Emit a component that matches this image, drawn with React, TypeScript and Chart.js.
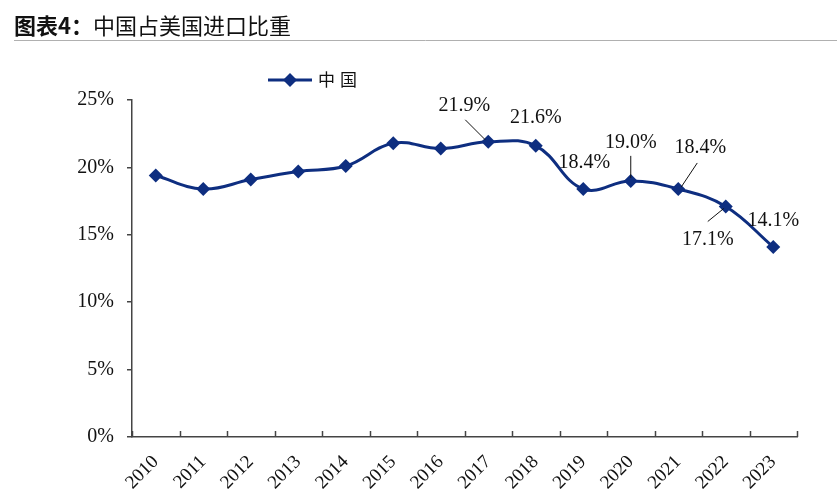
import React, { useEffect, useRef } from "react";
import { Chart, registerables } from "chart.js";

Chart.register(...registerables);

const years = ["2010", "2011", "2012", "2013", "2014", "2015", "2016", "2017", "2018", "2019", "2020", "2021", "2022", "2023"];
const chinaShare = [19.4, 18.4, 19.1, 19.7, 20.1, 21.8, 21.4, 21.9, 21.6, 18.4, 19.0, 18.4, 17.1, 14.1];
const yTicks = [0, 5, 10, 15, 20, 25];
const seriesName = "中国";
const titleText = "图表4：中国占美国进口比重";

const NAVY = "#0E2E80";
const SERIF = "'Liberation Serif', 'Times New Roman', serif";

// label placement: [index, dx, dy, leader?[x1,y1,x2,y2 relative to point]]
const labelPlacements: Array<[number, number, number, number[] | null]> = [
  [7, -24, -36, [-23, -22, -3, -2]],
  [8, 0, -28, null],
  [9, 1, -26, null],
  [10, 0, -38, [0, -25, 0, -3]],
  [11, 22, -41, [19, -26, 3, -2]],
  [12, -18, 33, [-18, 15, -2, 2]],
  [13, 0, -26, null],
];

const decorPlugin = {
  id: "decor",
  afterDraw(chart: any) {
    const ctx = chart.ctx;
    const xs = chart.scales.x;
    const area = chart.chartArea;
    ctx.save();
    // title
    ctx.fillStyle = "#111";
    ctx.textBaseline = "middle";
    ctx.textAlign = "left";
    ctx.font = `bold 22px 'Noto Sans CJK SC', sans-serif`;
    const head = "图表4：";
    ctx.fillText(head, 14, 26);
    const w = ctx.measureText(head).width;
    ctx.font = `22px 'Noto Sans CJK SC', sans-serif`;
    ctx.fillText(titleText.slice(head.length), 14 + w, 26);
    ctx.strokeStyle = "#b0b0b0";
    ctx.lineWidth = 1;
    ctx.beginPath();
    ctx.moveTo(14, 40.5);
    ctx.lineTo(837, 40.5);
    ctx.stroke();

    // legend
    ctx.strokeStyle = NAVY;
    ctx.lineWidth = 3;
    ctx.beginPath();
    ctx.moveTo(268, 80);
    ctx.lineTo(312, 80);
    ctx.stroke();
    ctx.fillStyle = NAVY;
    ctx.beginPath();
    ctx.moveTo(290, 73);
    ctx.lineTo(297, 80);
    ctx.lineTo(290, 87);
    ctx.lineTo(283, 80);
    ctx.closePath();
    ctx.fill();
    ctx.fillStyle = "#111";
    ctx.font = `17px 'Noto Sans CJK SC', sans-serif`;
    ctx.textAlign = "left";
    const chars = seriesName.split("");
    chars.forEach((c, i) => ctx.fillText(c, 318 + i * 22, 80));

    // x ticks (inside, between categories)
    ctx.strokeStyle = "#444";
    ctx.lineWidth = 1.5;
    for (let i = 0; i <= years.length; i++) {
      const px = Math.round(xs.getPixelForValue(i - 0.5)) + 0.5;
      ctx.beginPath();
      ctx.moveTo(px, area.bottom);
      ctx.lineTo(px, area.bottom - 6);
      ctx.stroke();
    }

    // data labels
    const meta = chart.getDatasetMeta(0);
    ctx.font = `20px ${SERIF}`;
    ctx.textAlign = "center";
    ctx.textBaseline = "middle";
    labelPlacements.forEach(([idx, dx, dy, leader]) => {
      const pt = meta.data[idx];
      const txt = chinaShare[idx].toFixed(1) + "%";
      ctx.fillStyle = "#111";
      ctx.fillText(txt, pt.x + dx, pt.y + dy);
      if (leader) {
        ctx.strokeStyle = "#111";
        ctx.lineWidth = 1;
        ctx.beginPath();
        ctx.moveTo(pt.x + leader[0], pt.y + leader[1]);
        ctx.lineTo(pt.x + leader[2], pt.y + leader[3]);
        ctx.stroke();
      }
    });
    ctx.restore();
  },
};

export default function App() {
  const ref = useRef<HTMLCanvasElement | null>(null);
  useEffect(() => {
    if (!ref.current) return;
    const chart = new Chart(ref.current, {
      type: "line",
      data: {
        labels: years,
        datasets: [
          {
            label: seriesName,
            data: chinaShare,
            borderColor: NAVY,
            backgroundColor: NAVY,
            borderWidth: 3,
            tension: 0.4,
            pointStyle: "rectRot",
            pointRadius: 7,
            pointBackgroundColor: NAVY,
            pointBorderColor: NAVY,
            pointBorderWidth: 0,
          },
        ],
      },
      options: {
        animation: false,
        responsive: false,
        maintainAspectRatio: false,
        layout: { padding: { top: 100, right: 40, left: 0, bottom: 0 } },
        plugins: {
          legend: { display: false },
          tooltip: { enabled: false },
          title: { display: false },
        },
        scales: {
          x: {
            type: "category",
            offset: true,
            grid: { display: false, offset: true },
            border: { display: true, color: "#444", width: 1.5 },
            ticks: {
              color: "#111",
              font: { family: SERIF, size: 19 },
              maxRotation: 45,
              minRotation: 45,
              autoSkip: false,
              padding: 6,
            },
            afterFit(scale: any) {
              scale.height = 63;
            },
          },
          y: {
            min: 0,
            max: 25,
            afterBuildTicks(scale: any) {
              scale.ticks = yTicks.map((v) => ({ value: v }));
            },
            grid: { drawOnChartArea: false, tickLength: 5, color: "#444", lineWidth: 1.5 },
            border: { display: true, color: "#444", width: 1.5 },
            ticks: {
              color: "#111",
              font: { family: SERIF, size: 20 },
              padding: 13,
              callback: (v: any) => v + "%",
            },
            afterFit(scale: any) {
              scale.width = 132;
            },
          },
        },
      },
      plugins: [decorPlugin],
    });
    return () => chart.destroy();
  }, []);
  return (
    <div style={{ position: "fixed", left: 0, top: 0, width: 837, height: 500, background: "#fff" }}>
      <canvas ref={ref} width={837} height={500} style={{ width: 837, height: 500 }} />
    </div>
  );
}
